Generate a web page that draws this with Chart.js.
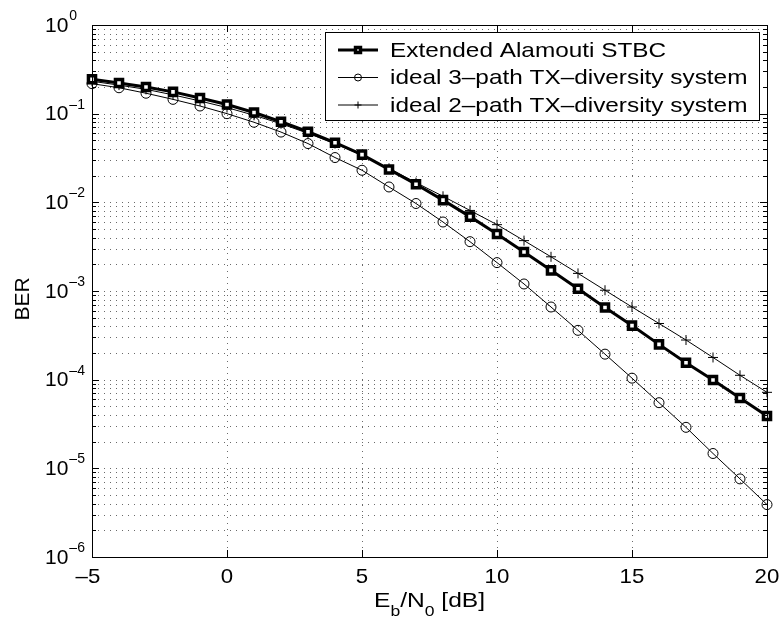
<!DOCTYPE html>
<html>
<head>
<meta charset="utf-8">
<script src="https://cdn.jsdelivr.net/npm/chart.js@4/dist/chart.umd.min.js"></script>
<style>
  html, body { margin: 0; padding: 0; background: #fff; }
</style>
</head>
<body>
<canvas id="ber-chart" width="781" height="619"></canvas>
<script>
var snr = [-5,-4,-3,-2,-1,0,1,2,3,4,5,6,7,8,9,10,11,12,13,14,15,16,17,18,19,20];
var berAlamouti = [0.245,0.222,0.200,0.176,0.150,0.127,0.103,0.081,0.0625,0.047,0.0345,0.0235,0.016,0.0106,0.0069,0.0044,0.00275,0.00171,0.00106,0.00065,0.000407,0.00025,0.000155,0.000099,0.000062,0.000039];
var berThreePath = [0.218,0.196,0.170,0.145,0.122,0.100,0.080,0.062,0.046,0.032,0.023,0.0149,0.0097,0.0060,0.0036,0.00209,0.0012,0.00066,0.00036,0.000194,0.000104,0.000055,0.000029,0.0000147,0.0000076,0.0000039];
var berTwoPath = [0.232,0.210,0.188,0.163,0.139,0.117,0.096,0.077,0.060,0.046,0.034,0.0242,0.0167,0.0117,0.0081,0.0056,0.0037,0.00243,0.00158,0.00102,0.00066,0.00043,0.00028,0.000178,0.000112,0.000072];
var seriesNames = ['Extended Alamouti STBC', 'ideal 3\u2013path TX\u2013diversity system', 'ideal 2\u2013path TX\u2013diversity system'];
var xTicks = [-5, 0, 5, 10, 15, 20];
var yExponents = [0, -1, -2, -3, -4, -5, -6];

var FONT = 'Arial, "Liberation Sans", Helvetica, sans-serif';

function points(ys) {
  return snr.map(function (x, i) { return { x: x, y: ys[i] }; });
}

// all 1..9 x 10^n positions for the log grid
var yGridValues = [];
for (var e = -6; e <= 0; e++) {
  for (var m = 1; m <= 9; m++) {
    if (e === 0 && m > 1) break;
    yGridValues.push(m * Math.pow(10, e));
  }
}

// text drawn a bit wider than tall, like the original figure
function wideText(ctx, txt, x, y, sx) {
  ctx.save();
  ctx.translate(x, y);
  ctx.scale(sx, 1);
  ctx.fillText(txt, 0, 0);
  ctx.restore();
  return ctx.measureText(txt).width * sx;
}

// dotted matlab-style grid under the data
var matlabGrid = {
  id: 'matlabGrid',
  beforeDatasetsDraw: function (chart) {
    var ctx = chart.ctx, a = chart.chartArea;
    var xs = chart.scales.x, ys = chart.scales.y;
    ctx.save();
    ctx.strokeStyle = '#6a6a6a';
    ctx.lineWidth = 1;
    ctx.setLineDash([1, 5]);
    ctx.beginPath();
    yGridValues.forEach(function (v) {
      var py = Math.round(ys.getPixelForValue(v)) + 0.5;
      ctx.moveTo(a.left, py); ctx.lineTo(a.right, py);
    });
    xTicks.forEach(function (v) {
      var px = Math.round(xs.getPixelForValue(v)) + 0.5;
      ctx.moveTo(px, a.top); ctx.lineTo(px, a.bottom);
    });
    ctx.stroke();
    ctx.restore();
  }
};

var matlabAxes = {
  id: 'matlabAxes',
  afterDatasetsDraw: function (chart) {
    var ctx = chart.ctx, a = chart.chartArea;
    var xs = chart.scales.x, ys = chart.scales.y;
    ctx.save();
    ctx.strokeStyle = '#000';
    ctx.lineWidth = 1;
    ctx.setLineDash([]);
    // box
    ctx.strokeRect(Math.round(a.left) + 0.5, Math.round(a.top) + 0.5,
      Math.round(a.right - a.left), Math.round(a.bottom - a.top));
    // inside ticks
    ctx.beginPath();
    yGridValues.forEach(function (v) {
      var py = Math.round(ys.getPixelForValue(v)) + 0.5;
      var major = Math.abs(Math.log10(v) - Math.round(Math.log10(v))) < 1e-9;
      var len = major ? 7 : 4;
      ctx.moveTo(a.left, py); ctx.lineTo(a.left + len, py);
      ctx.moveTo(a.right, py); ctx.lineTo(a.right - len, py);
    });
    xTicks.forEach(function (v) {
      var px = Math.round(xs.getPixelForValue(v)) + 0.5;
      ctx.moveTo(px, a.bottom); ctx.lineTo(px, a.bottom - 7);
      ctx.moveTo(px, a.top); ctx.lineTo(px, a.top + 7);
    });
    ctx.stroke();

    ctx.fillStyle = '#000';
    // x tick labels
    ctx.font = '21px ' + FONT;
    ctx.textAlign = 'center';
    ctx.textBaseline = 'alphabetic';
    xTicks.forEach(function (v) {
      var px = xs.getPixelForValue(v);
      var txt = String(v).replace('-', '\u2013');
      var off = v < 0 ? -4 : 0;
      ctx.save();
      ctx.translate(px + off, a.bottom + 26);
      ctx.scale(1.06, 1);
      ctx.fillText(txt, 0, 0);
      ctx.restore();
    });

    // y tick labels 10^n
    yExponents.forEach(function (ex) {
      var py = ys.getPixelForValue(Math.pow(10, ex));
      ctx.font = '21px ' + FONT;
      ctx.textAlign = 'left';
      ctx.textBaseline = 'middle';
      ctx.fillText('10', 45, py + 1);
      var w = ctx.measureText('10').width;
      ctx.font = '14px ' + FONT;
      ctx.textBaseline = 'alphabetic';
      ctx.fillText(ex === 0 ? '0' : '\u2013' + (-ex), 45 + w + 1, py - 5);
    });

    // y title
    ctx.save();
    ctx.translate(23, 299);
    ctx.rotate(-Math.PI / 2);
    ctx.font = '21px ' + FONT;
    ctx.textAlign = 'center';
    ctx.textBaseline = 'middle';
    ctx.fillText('BER', 0, 0);
    ctx.restore();

    // x title E_b/N_0 [dB]
    var parts = [['E', 0], ['b', 1], ['/N', 0], ['0', 1], [' [dB]', 0]];
    var tx = 374;
    ctx.textAlign = 'left';
    ctx.textBaseline = 'alphabetic';
    parts.forEach(function (p) {
      ctx.font = (p[1] ? '15px ' : '21px ') + FONT;
      tx += wideText(ctx, p[0], tx, p[1] ? 616 : 607, 1.17);
    });

    // legend
    var lx = 325, ly = 32, lw = 434, lh = 88;
    ctx.fillStyle = '#fff';
    ctx.fillRect(lx, ly, lw, lh);
    ctx.strokeStyle = '#000';
    ctx.lineWidth = 1;
    ctx.strokeRect(lx + 0.5, ly + 0.5, lw, lh);
    var rows = [50, 77.5, 105];
    chart.data.datasets.forEach(function (ds, i) {
      var y = rows[i];
      ctx.strokeStyle = ds.borderColor;
      ctx.lineWidth = ds.borderWidth;
      ctx.beginPath();
      ctx.moveTo(338, y); ctx.lineTo(378, y);
      ctx.stroke();
      ctx.strokeStyle = ds.pointBorderColor;
      ctx.fillStyle = ds.pointBackgroundColor;
      ctx.lineWidth = ds.pointBorderWidth;
      Chart.helpers.drawPoint(ctx, {
        pointStyle: ds.pointStyle,
        radius: ds.pointRadius * 0.7,
        borderWidth: ds.pointBorderWidth
      }, 358, y);
      ctx.fillStyle = '#000';
      ctx.font = '21px ' + FONT;
      ctx.textAlign = 'left';
      ctx.textBaseline = 'middle';
      wideText(ctx, ds.label, 390, y + 1, 1.16);
    });
    ctx.restore();
  }
};

var chart = new Chart(document.getElementById('ber-chart'), {
  type: 'line',
  data: {
    datasets: [{
      label: seriesNames[0],
      data: points(berAlamouti),
      borderColor: '#000',
      borderWidth: 3,
      pointStyle: 'rect',
      pointRadius: 5,
      pointBorderWidth: 3.5,
      pointBorderColor: '#000',
      pointBackgroundColor: '#fff',
      clip: false
    }, {
      label: seriesNames[1],
      data: points(berThreePath),
      borderColor: '#000',
      borderWidth: 1,
      pointStyle: 'circle',
      pointRadius: 5,
      pointBorderWidth: 1,
      pointBorderColor: '#000',
      pointBackgroundColor: 'rgba(0,0,0,0)',
      clip: false
    }, {
      label: seriesNames[2],
      data: points(berTwoPath),
      borderColor: '#000',
      borderWidth: 1,
      pointStyle: 'cross',
      pointRadius: 5,
      pointBorderWidth: 1,
      pointBorderColor: '#000',
      pointBackgroundColor: 'rgba(0,0,0,0)',
      clip: false
    }]
  },
  options: {
    responsive: false,
    animation: false,
    tension: 0,
    layout: { padding: { top: 25, right: 14, left: 0, bottom: 0 } },
    plugins: { legend: { display: false }, tooltip: { enabled: false } },
    scales: {
      x: {
        type: 'linear',
        min: -5,
        max: 20,
        afterBuildTicks: function (scale) {
          scale.ticks = xTicks.map(function (v) { return { value: v }; });
        },
        afterFit: function (scale) { scale.height = 62; },
        ticks: { display: false },
        grid: { display: false },
        border: { display: false }
      },
      y: {
        type: 'logarithmic',
        min: 1e-6,
        max: 1,
        afterBuildTicks: function (scale) {
          scale.ticks = yGridValues.map(function (v) { return { value: v }; });
        },
        afterFit: function (scale) { scale.width = 92; },
        ticks: { display: false },
        grid: { display: false },
        border: { display: false }
      }
    }
  },
  plugins: [matlabGrid, matlabAxes]
});
</script>
</body>
</html>
